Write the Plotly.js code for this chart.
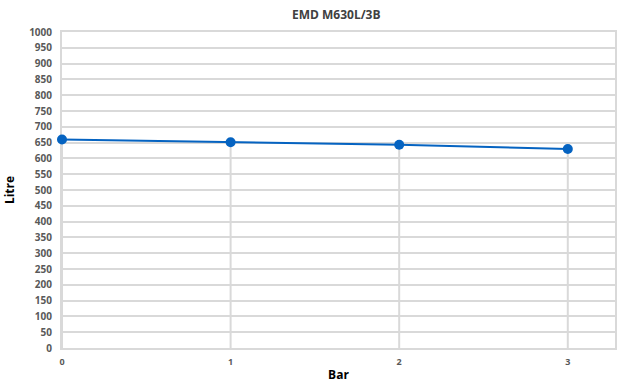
<!DOCTYPE html>
<html><head><meta charset="utf-8">
<script src="https://cdn.plot.ly/plotly-3.0.1.min.js"></script>
<style>body{margin:0}#c{width:617px;height:383px}</style>
</head><body><div id="c"></div>
<script>
const pressureBar = [0, 1, 2, 3];
const volumeLitre = [660, 651, 643, 630];
const yTicks = [0,50,100,150,200,250,300,350,400,450,500,550,600,650,700,750,800,850,900,950,1000];
const xTicks = [0, 1, 2, 3];

const grid = '#d9d9d9';
const tickFont = {family: 'Open Sans, Liberation Sans, sans-serif', size: 10, color: '#595959', weight: 'bold'};

Plotly.newPlot('c', [{
  x: pressureBar, y: volumeLitre, type: 'scatter', mode: 'lines+markers',
  cliponaxis: false,
  line: {color: '#0563C1', width: 2},
  marker: {color: '#0563C1', size: 10},
  error_y: {type: 'data', symmetric: false, array: pressureBar.map(() => 0), arrayminus: volumeLitre,
            color: grid, thickness: 2, width: 0},
  hoverinfo: 'skip'
}], {
  width: 617, height: 383,
  margin: {l: 62, r: 2, t: 32, b: 35},
  paper_bgcolor: '#fff', plot_bgcolor: '#fff',
  showlegend: false,
  title: {text: 'EMD M630L/3B', font: {family: 'Open Sans, sans-serif', size: 12, color: '#404040', weight: 'bold'}, x: 0.545, xanchor: 'center', y: 0.962, yanchor: 'middle'},
  xaxis: {range: [0, 3.28], tickvals: xTicks, ticktext: xTicks.map(String), showgrid: false, zeroline: false,
          showline: true, mirror: true, linecolor: grid, linewidth: 2, ticks: '', tickfont: {...tickFont, size: 9},
          ticklabelstandoff: 4, layer: 'below traces',
          title: {text: 'Bar', font: {family: 'Open Sans, sans-serif', size: 12, color: '#000', weight: 'bold'}, standoff: 6}},
  yaxis: {range: [0, 1000], tickvals: yTicks, showgrid: true, gridcolor: grid, gridwidth: 2, zeroline: false,
          showline: true, mirror: true, linecolor: grid, linewidth: 2, ticks: '', tickfont: tickFont,
          ticklabelstandoff: 6, layer: 'below traces',
          title: {text: 'Litre', font: {family: 'Open Sans, sans-serif', size: 12, color: '#000', weight: 'bold'}, standoff: 12}}
}, {displayModeBar: false, staticPlot: true});
</script></body></html>
